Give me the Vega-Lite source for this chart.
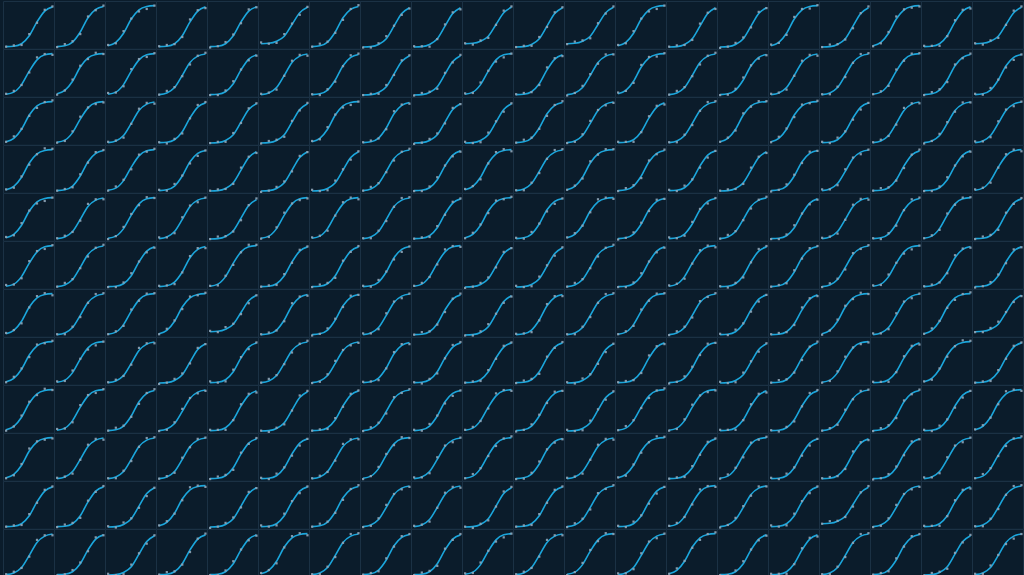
{
"$schema":"https://vega.github.io/schema/vega-lite/v6.json",
"background":"#0b1c2b",
"padding":{"left":2,"top":0,"right":0,"bottom":0},
"bounds":"flush",
"datasets":{
"t":[
{"k":"A0","x":0,"f":3},{"k":"A1","x":1,"f":11},{"k":"A2","x":2,"f":33},{"k":"A3","x":3,"f":67},{"k":"A4","x":4,"f":89},{"k":"A5","x":5,"f":97},{"k":"A6","x":6,"f":99},
{"k":"B0","x":0,"f":2},{"k":"B1","x":1,"f":7},{"k":"B2","x":2,"f":25},{"k":"B3","x":3,"f":57},{"k":"B4","x":4,"f":84},{"k":"B5","x":5,"f":96},{"k":"B6","x":6,"f":99},
{"k":"C0","x":0,"f":1},{"k":"C1","x":1,"f":5},{"k":"C2","x":2,"f":18},{"k":"C3","x":3,"f":47},{"k":"C4","x":4,"f":78},{"k":"C5","x":5,"f":93},{"k":"C6","x":6,"f":98},
{"k":"D0","x":0,"f":1},{"k":"D1","x":1,"f":3},{"k":"D2","x":2,"f":12},{"k":"D3","x":3,"f":36},{"k":"D4","x":4,"f":70},{"k":"D5","x":5,"f":90},{"k":"D6","x":6,"f":97},
{"k":"E0","x":0,"f":1},{"k":"E1","x":1,"f":2},{"k":"E2","x":2,"f":8},{"k":"E3","x":3,"f":27},{"k":"E4","x":4,"f":60},{"k":"E5","x":5,"f":86},{"k":"E6","x":6,"f":96},
{"k":"F0","x":0,"f":0},{"k":"F1","x":1,"f":1},{"k":"F2","x":2,"f":6},{"k":"F3","x":3,"f":20},{"k":"F4","x":4,"f":50},{"k":"F5","x":5,"f":80},{"k":"F6","x":6,"f":94},
{"k":"R0","x":0,"f":8},{"k":"R1","x":1,"f":9},{"k":"R2","x":2,"f":14},{"k":"R3","x":3,"f":26},{"k":"R4","x":4,"f":54},{"k":"R5","x":5,"f":82},{"k":"R6","x":6,"f":95}
],
"d":[
{"p":0,"k":"E0","y":1},{"p":0,"k":"E1","y":4},{"p":0,"k":"E2","y":5},{"p":0,"k":"E3","y":31},{"p":0,"k":"E4","y":58},{"p":0,"k":"E5","y":89},{"p":0,"k":"E6","y":97},
{"p":1,"k":"D0","y":0},{"p":1,"k":"D1","y":7},{"p":1,"k":"D2","y":14},{"p":1,"k":"D3","y":31},{"p":1,"k":"D4","y":73},{"p":1,"k":"D5","y":88},{"p":1,"k":"D6","y":99},
{"p":2,"k":"A0","y":5},{"p":2,"k":"A1","y":9},{"p":2,"k":"A2","y":38},{"p":2,"k":"A3","y":68},{"p":2,"k":"A4","y":85},{"p":2,"k":"A5","y":91},{"p":2,"k":"A6","y":99},
{"p":3,"k":"E0","y":2},{"p":3,"k":"E1","y":5},{"p":3,"k":"E2","y":7},{"p":3,"k":"E3","y":24},{"p":3,"k":"E4","y":66},{"p":3,"k":"E5","y":88},{"p":3,"k":"E6","y":93},
{"p":4,"k":"E0","y":-1},{"p":4,"k":"E1","y":2},{"p":4,"k":"E2","y":12},{"p":4,"k":"E3","y":30},{"p":4,"k":"E4","y":57},{"p":4,"k":"E5","y":90},{"p":4,"k":"E6","y":95},
{"p":5,"k":"R0","y":11},{"p":5,"k":"R1","y":8},{"p":5,"k":"R2","y":10},{"p":5,"k":"R3","y":31},{"p":5,"k":"R4","y":56},{"p":5,"k":"R5","y":77},{"p":5,"k":"R6","y":96},
{"p":6,"k":"D0","y":1},{"p":6,"k":"D1","y":8},{"p":6,"k":"D2","y":13},{"p":6,"k":"D3","y":34},{"p":6,"k":"D4","y":65},{"p":6,"k":"D5","y":91},{"p":6,"k":"D6","y":100},
{"p":7,"k":"F0","y":-1},{"p":7,"k":"F1","y":-1},{"p":7,"k":"F2","y":9},{"p":7,"k":"F3","y":26},{"p":7,"k":"F4","y":51},{"p":7,"k":"F5","y":77},{"p":7,"k":"F6","y":92},
{"p":8,"k":"F0","y":2},{"p":8,"k":"F1","y":2},{"p":8,"k":"F2","y":1},{"p":8,"k":"F3","y":19},{"p":8,"k":"F4","y":54},{"p":8,"k":"F5","y":83},{"p":8,"k":"F6","y":90},
{"p":9,"k":"R0","y":9},{"p":9,"k":"R1","y":6},{"p":9,"k":"R2","y":16},{"p":9,"k":"R3","y":22},{"p":9,"k":"R4","y":53},{"p":9,"k":"R5","y":87},{"p":9,"k":"R6","y":97},
{"p":10,"k":"F0","y":0},{"p":10,"k":"F1","y":3},{"p":10,"k":"F2","y":3},{"p":10,"k":"F3","y":24},{"p":10,"k":"F4","y":48},{"p":10,"k":"F5","y":83},{"p":10,"k":"F6","y":95},
{"p":11,"k":"R0","y":7},{"p":11,"k":"R1","y":13},{"p":11,"k":"R2","y":16},{"p":11,"k":"R3","y":21},{"p":11,"k":"R4","y":57},{"p":11,"k":"R5","y":80},{"p":11,"k":"R6","y":97},
{"p":12,"k":"A0","y":5},{"p":12,"k":"A1","y":9},{"p":12,"k":"A2","y":38},{"p":12,"k":"A3","y":68},{"p":12,"k":"A4","y":85},{"p":12,"k":"A5","y":91},{"p":12,"k":"A6","y":99},
{"p":13,"k":"F0","y":1},{"p":13,"k":"F1","y":4},{"p":13,"k":"F2","y":5},{"p":13,"k":"F3","y":17},{"p":13,"k":"F4","y":56},{"p":13,"k":"F5","y":82},{"p":13,"k":"F6","y":91},
{"p":14,"k":"F0","y":-2},{"p":14,"k":"F1","y":1},{"p":14,"k":"F2","y":10},{"p":14,"k":"F3","y":23},{"p":14,"k":"F4","y":47},{"p":14,"k":"F5","y":84},{"p":14,"k":"F6","y":93},
{"p":15,"k":"A0","y":6},{"p":15,"k":"A1","y":10},{"p":15,"k":"A2","y":29},{"p":15,"k":"A3","y":72},{"p":15,"k":"A4","y":91},{"p":15,"k":"A5","y":92},{"p":15,"k":"A6","y":100},
{"p":16,"k":"F0","y":0},{"p":16,"k":"F1","y":6},{"p":16,"k":"F2","y":7},{"p":16,"k":"F3","y":18},{"p":16,"k":"F4","y":45},{"p":16,"k":"F5","y":81},{"p":16,"k":"F6","y":97},
{"p":17,"k":"A0","y":2},{"p":17,"k":"A1","y":9},{"p":17,"k":"A2","y":36},{"p":17,"k":"A3","y":73},{"p":17,"k":"A4","y":90},{"p":17,"k":"A5","y":94},{"p":17,"k":"A6","y":97},
{"p":18,"k":"E0","y":3},{"p":18,"k":"E1","y":3},{"p":18,"k":"E2","y":3},{"p":18,"k":"E3","y":26},{"p":18,"k":"E4","y":64},{"p":18,"k":"E5","y":89},{"p":18,"k":"E6","y":92},
{"p":19,"k":"R0","y":9},{"p":19,"k":"R1","y":6},{"p":19,"k":"R2","y":16},{"p":19,"k":"R3","y":22},{"p":19,"k":"R4","y":53},{"p":19,"k":"R5","y":87},{"p":19,"k":"R6","y":97},
{"p":20,"k":"B0","y":3},{"p":20,"k":"B1","y":10},{"p":20,"k":"B2","y":24},{"p":20,"k":"B3","y":54},{"p":20,"k":"B4","y":90},{"p":20,"k":"B5","y":98},{"p":20,"k":"B6","y":96},
{"p":21,"k":"A0","y":1},{"p":21,"k":"A1","y":11},{"p":21,"k":"A2","y":37},{"p":21,"k":"A3","y":70},{"p":21,"k":"A4","y":86},{"p":21,"k":"A5","y":101},{"p":21,"k":"A6","y":98},
{"p":22,"k":"B0","y":5},{"p":22,"k":"B1","y":6},{"p":22,"k":"B2","y":21},{"p":22,"k":"B3","y":62},{"p":22,"k":"B4","y":86},{"p":22,"k":"B5","y":91},{"p":22,"k":"B6","y":100},
{"p":23,"k":"C0","y":1},{"p":23,"k":"C1","y":10},{"p":23,"k":"C2","y":19},{"p":23,"k":"C3","y":45},{"p":23,"k":"C4","y":73},{"p":23,"k":"C5","y":94},{"p":23,"k":"C6","y":101},
{"p":24,"k":"E0","y":0},{"p":24,"k":"E1","y":0},{"p":24,"k":"E2","y":11},{"p":24,"k":"E3","y":33},{"p":24,"k":"E4","y":61},{"p":24,"k":"E5","y":83},{"p":24,"k":"E6","y":94},
{"p":25,"k":"C0","y":3},{"p":25,"k":"C1","y":6},{"p":25,"k":"C2","y":13},{"p":25,"k":"C3","y":46},{"p":25,"k":"C4","y":82},{"p":25,"k":"C5","y":96},{"p":25,"k":"C6","y":94},
{"p":26,"k":"D0","y":2},{"p":26,"k":"D1","y":0},{"p":26,"k":"D2","y":14},{"p":26,"k":"D3","y":32},{"p":26,"k":"D4","y":69},{"p":26,"k":"D5","y":95},{"p":26,"k":"D6","y":99},
{"p":27,"k":"F0","y":0},{"p":27,"k":"F1","y":3},{"p":27,"k":"F2","y":3},{"p":27,"k":"F3","y":24},{"p":27,"k":"F4","y":48},{"p":27,"k":"F5","y":83},{"p":27,"k":"F6","y":95},
{"p":28,"k":"F0","y":-1},{"p":28,"k":"F1","y":5},{"p":28,"k":"F2","y":8},{"p":28,"k":"F3","y":15},{"p":28,"k":"F4","y":53},{"p":28,"k":"F5","y":78},{"p":28,"k":"F6","y":96},
{"p":29,"k":"B0","y":4},{"p":29,"k":"B1","y":5},{"p":29,"k":"B2","y":30},{"p":29,"k":"B3","y":58},{"p":29,"k":"B4","y":80},{"p":29,"k":"B5","y":90},{"p":29,"k":"B6","y":99},
{"p":30,"k":"E0","y":2},{"p":30,"k":"E1","y":5},{"p":30,"k":"E2","y":7},{"p":30,"k":"E3","y":24},{"p":30,"k":"E4","y":66},{"p":30,"k":"E5","y":88},{"p":30,"k":"E6","y":93},
{"p":31,"k":"C0","y":-1},{"p":31,"k":"C1","y":5},{"p":31,"k":"C2","y":22},{"p":31,"k":"C3","y":50},{"p":31,"k":"C4","y":75},{"p":31,"k":"C5","y":97},{"p":31,"k":"C6","y":97},
{"p":32,"k":"A0","y":6},{"p":32,"k":"A1","y":10},{"p":32,"k":"A2","y":29},{"p":32,"k":"A3","y":72},{"p":32,"k":"A4","y":91},{"p":32,"k":"A5","y":92},{"p":32,"k":"A6","y":100},
{"p":33,"k":"C0","y":1},{"p":33,"k":"C1","y":10},{"p":33,"k":"C2","y":19},{"p":33,"k":"C3","y":45},{"p":33,"k":"C4","y":73},{"p":33,"k":"C5","y":94},{"p":33,"k":"C6","y":101},
{"p":34,"k":"D0","y":0},{"p":34,"k":"D1","y":1},{"p":34,"k":"D2","y":15},{"p":34,"k":"D3","y":42},{"p":34,"k":"D4","y":71},{"p":34,"k":"D5","y":87},{"p":34,"k":"D6","y":95},
{"p":35,"k":"C0","y":3},{"p":35,"k":"C1","y":6},{"p":35,"k":"C2","y":13},{"p":35,"k":"C3","y":46},{"p":35,"k":"C4","y":82},{"p":35,"k":"C5","y":96},{"p":35,"k":"C6","y":94},
{"p":36,"k":"C0","y":2},{"p":36,"k":"C1","y":2},{"p":36,"k":"C2","y":20},{"p":36,"k":"C3","y":43},{"p":36,"k":"C4","y":77},{"p":36,"k":"C5","y":98},{"p":36,"k":"C6","y":100},
{"p":37,"k":"B0","y":2},{"p":37,"k":"B1","y":9},{"p":37,"k":"B2","y":22},{"p":37,"k":"B3","y":61},{"p":37,"k":"B4","y":82},{"p":37,"k":"B5","y":99},{"p":37,"k":"B6","y":100},
{"p":38,"k":"D0","y":0},{"p":38,"k":"D1","y":7},{"p":38,"k":"D2","y":14},{"p":38,"k":"D3","y":31},{"p":38,"k":"D4","y":73},{"p":38,"k":"D5","y":88},{"p":38,"k":"D6","y":99},
{"p":39,"k":"D0","y":3},{"p":39,"k":"D1","y":1},{"p":39,"k":"D2","y":17},{"p":39,"k":"D3","y":37},{"p":39,"k":"D4","y":66},{"p":39,"k":"D5","y":84},{"p":39,"k":"D6","y":97},
{"p":40,"k":"A0","y":3},{"p":40,"k":"A1","y":16},{"p":40,"k":"A2","y":34},{"p":40,"k":"A3","y":65},{"p":40,"k":"A4","y":84},{"p":40,"k":"A5","y":98},{"p":40,"k":"A6","y":102},
{"p":41,"k":"B0","y":1},{"p":41,"k":"B1","y":5},{"p":41,"k":"B2","y":28},{"p":41,"k":"B3","y":63},{"p":41,"k":"B4","y":85},{"p":41,"k":"B5","y":93},{"p":41,"k":"B6","y":97},
{"p":42,"k":"C0","y":3},{"p":42,"k":"C1","y":6},{"p":42,"k":"C2","y":13},{"p":42,"k":"C3","y":46},{"p":42,"k":"C4","y":82},{"p":42,"k":"C5","y":96},{"p":42,"k":"C6","y":94},
{"p":43,"k":"E0","y":2},{"p":43,"k":"E1","y":-1},{"p":43,"k":"E2","y":10},{"p":43,"k":"E3","y":23},{"p":43,"k":"E4","y":59},{"p":43,"k":"E5","y":91},{"p":43,"k":"E6","y":98},
{"p":44,"k":"F0","y":0},{"p":44,"k":"F1","y":3},{"p":44,"k":"F2","y":3},{"p":44,"k":"F3","y":24},{"p":44,"k":"F4","y":48},{"p":44,"k":"F5","y":83},{"p":44,"k":"F6","y":95},
{"p":45,"k":"F0","y":-1},{"p":45,"k":"F1","y":5},{"p":45,"k":"F2","y":8},{"p":45,"k":"F3","y":15},{"p":45,"k":"F4","y":53},{"p":45,"k":"F5","y":78},{"p":45,"k":"F6","y":96},
{"p":46,"k":"A0","y":5},{"p":46,"k":"A1","y":9},{"p":46,"k":"A2","y":38},{"p":46,"k":"A3","y":68},{"p":46,"k":"A4","y":85},{"p":46,"k":"A5","y":91},{"p":46,"k":"A6","y":99},
{"p":47,"k":"D0","y":2},{"p":47,"k":"D1","y":6},{"p":47,"k":"D2","y":11},{"p":47,"k":"D3","y":33},{"p":47,"k":"D4","y":76},{"p":47,"k":"D5","y":92},{"p":47,"k":"D6","y":94},
{"p":48,"k":"F0","y":-2},{"p":48,"k":"F1","y":1},{"p":48,"k":"F2","y":10},{"p":48,"k":"F3","y":23},{"p":48,"k":"F4","y":47},{"p":48,"k":"F5","y":84},{"p":48,"k":"F6","y":93},
{"p":49,"k":"F0","y":3},{"p":49,"k":"F1","y":0},{"p":49,"k":"F2","y":2},{"p":49,"k":"F3","y":25},{"p":49,"k":"F4","y":52},{"p":49,"k":"F5","y":75},{"p":49,"k":"F6","y":95},
{"p":50,"k":"D0","y":1},{"p":50,"k":"D1","y":8},{"p":50,"k":"D2","y":13},{"p":50,"k":"D3","y":34},{"p":50,"k":"D4","y":65},{"p":50,"k":"D5","y":91},{"p":50,"k":"D6","y":100},
{"p":51,"k":"C0","y":0},{"p":51,"k":"C1","y":3},{"p":51,"k":"C2","y":21},{"p":51,"k":"C3","y":53},{"p":51,"k":"C4","y":79},{"p":51,"k":"C5","y":90},{"p":51,"k":"C6","y":96},
{"p":52,"k":"E0","y":3},{"p":52,"k":"E1","y":3},{"p":52,"k":"E2","y":3},{"p":52,"k":"E3","y":26},{"p":52,"k":"E4","y":64},{"p":52,"k":"E5","y":89},{"p":52,"k":"E6","y":92},
{"p":53,"k":"C0","y":2},{"p":53,"k":"C1","y":2},{"p":53,"k":"C2","y":20},{"p":53,"k":"C3","y":43},{"p":53,"k":"C4","y":77},{"p":53,"k":"C5","y":98},{"p":53,"k":"C6","y":100},
{"p":54,"k":"A0","y":3},{"p":54,"k":"A1","y":13},{"p":54,"k":"A2","y":30},{"p":54,"k":"A3","y":71},{"p":54,"k":"A4","y":87},{"p":54,"k":"A5","y":100},{"p":54,"k":"A6","y":100},
{"p":55,"k":"A0","y":2},{"p":55,"k":"A1","y":15},{"p":55,"k":"A2","y":35},{"p":55,"k":"A3","y":62},{"p":55,"k":"A4","y":92},{"p":55,"k":"A5","y":95},{"p":55,"k":"A6","y":101},
{"p":56,"k":"E0","y":3},{"p":56,"k":"E1","y":0},{"p":56,"k":"E2","y":13},{"p":56,"k":"E3","y":28},{"p":56,"k":"E4","y":56},{"p":56,"k":"E5","y":80},{"p":56,"k":"E6","y":96},
{"p":57,"k":"C0","y":2},{"p":57,"k":"C1","y":8},{"p":57,"k":"C2","y":17},{"p":57,"k":"C3","y":44},{"p":57,"k":"C4","y":84},{"p":57,"k":"C5","y":95},{"p":57,"k":"C6","y":95},
{"p":58,"k":"C0","y":-1},{"p":58,"k":"C1","y":5},{"p":58,"k":"C2","y":22},{"p":58,"k":"C3","y":50},{"p":58,"k":"C4","y":75},{"p":58,"k":"C5","y":97},{"p":58,"k":"C6","y":97},
{"p":59,"k":"C0","y":4},{"p":59,"k":"C1","y":4},{"p":59,"k":"C2","y":14},{"p":59,"k":"C3","y":52},{"p":59,"k":"C4","y":80},{"p":59,"k":"C5","y":88},{"p":59,"k":"C6","y":99},
{"p":60,"k":"A0","y":4},{"p":60,"k":"A1","y":8},{"p":60,"k":"A2","y":35},{"p":60,"k":"A3","y":63},{"p":60,"k":"A4","y":88},{"p":60,"k":"A5","y":102},{"p":60,"k":"A6","y":101},
{"p":61,"k":"D0","y":1},{"p":61,"k":"D1","y":5},{"p":61,"k":"D2","y":9},{"p":61,"k":"D3","y":40},{"p":61,"k":"D4","y":68},{"p":61,"k":"D5","y":93},{"p":61,"k":"D6","y":98},
{"p":62,"k":"B0","y":1},{"p":62,"k":"B1","y":11},{"p":62,"k":"B2","y":27},{"p":62,"k":"B3","y":52},{"p":62,"k":"B4","y":87},{"p":62,"k":"B5","y":94},{"p":62,"k":"B6","y":101},
{"p":63,"k":"D0","y":3},{"p":63,"k":"D1","y":1},{"p":63,"k":"D2","y":17},{"p":63,"k":"D3","y":37},{"p":63,"k":"D4","y":66},{"p":63,"k":"D5","y":84},{"p":63,"k":"D6","y":97},
{"p":64,"k":"F0","y":1},{"p":64,"k":"F1","y":4},{"p":64,"k":"F2","y":5},{"p":64,"k":"F3","y":17},{"p":64,"k":"F4","y":56},{"p":64,"k":"F5","y":82},{"p":64,"k":"F6","y":91},
{"p":65,"k":"F0","y":-2},{"p":65,"k":"F1","y":1},{"p":65,"k":"F2","y":10},{"p":65,"k":"F3","y":23},{"p":65,"k":"F4","y":47},{"p":65,"k":"F5","y":84},{"p":65,"k":"F6","y":93},
{"p":66,"k":"F0","y":3},{"p":66,"k":"F1","y":0},{"p":66,"k":"F2","y":2},{"p":66,"k":"F3","y":25},{"p":66,"k":"F4","y":52},{"p":66,"k":"F5","y":75},{"p":66,"k":"F6","y":95},
{"p":67,"k":"C0","y":1},{"p":67,"k":"C1","y":10},{"p":67,"k":"C2","y":19},{"p":67,"k":"C3","y":45},{"p":67,"k":"C4","y":73},{"p":67,"k":"C5","y":94},{"p":67,"k":"C6","y":101},
{"p":68,"k":"E0","y":0},{"p":68,"k":"E1","y":0},{"p":68,"k":"E2","y":11},{"p":68,"k":"E3","y":33},{"p":68,"k":"E4","y":61},{"p":68,"k":"E5","y":83},{"p":68,"k":"E6","y":94},
{"p":69,"k":"A0","y":5},{"p":69,"k":"A1","y":12},{"p":69,"k":"A2","y":28},{"p":69,"k":"A3","y":66},{"p":69,"k":"A4","y":93},{"p":69,"k":"A5","y":100},{"p":69,"k":"A6","y":95},
{"p":70,"k":"C0","y":2},{"p":70,"k":"C1","y":2},{"p":70,"k":"C2","y":20},{"p":70,"k":"C3","y":43},{"p":70,"k":"C4","y":77},{"p":70,"k":"C5","y":98},{"p":70,"k":"C6","y":100},
{"p":71,"k":"A0","y":3},{"p":71,"k":"A1","y":13},{"p":71,"k":"A2","y":30},{"p":71,"k":"A3","y":71},{"p":71,"k":"A4","y":87},{"p":71,"k":"A5","y":100},{"p":71,"k":"A6","y":100},
{"p":72,"k":"D0","y":0},{"p":72,"k":"D1","y":7},{"p":72,"k":"D2","y":14},{"p":72,"k":"D3","y":31},{"p":72,"k":"D4","y":73},{"p":72,"k":"D5","y":88},{"p":72,"k":"D6","y":99},
{"p":73,"k":"E0","y":3},{"p":73,"k":"E1","y":0},{"p":73,"k":"E2","y":13},{"p":73,"k":"E3","y":28},{"p":73,"k":"E4","y":56},{"p":73,"k":"E5","y":80},{"p":73,"k":"E6","y":96},
{"p":74,"k":"F0","y":1},{"p":74,"k":"F1","y":4},{"p":74,"k":"F2","y":5},{"p":74,"k":"F3","y":17},{"p":74,"k":"F4","y":56},{"p":74,"k":"F5","y":82},{"p":74,"k":"F6","y":91},
{"p":75,"k":"D0","y":-1},{"p":75,"k":"D1","y":3},{"p":75,"k":"D2","y":16},{"p":75,"k":"D3","y":39},{"p":75,"k":"D4","y":67},{"p":75,"k":"D5","y":94},{"p":75,"k":"D6","y":96},
{"p":76,"k":"C0","y":4},{"p":76,"k":"C1","y":4},{"p":76,"k":"C2","y":14},{"p":76,"k":"C3","y":52},{"p":76,"k":"C4","y":80},{"p":76,"k":"C5","y":88},{"p":76,"k":"C6","y":99},
{"p":77,"k":"E0","y":1},{"p":77,"k":"E1","y":7},{"p":77,"k":"E2","y":9},{"p":77,"k":"E3","y":25},{"p":77,"k":"E4","y":55},{"p":77,"k":"E5","y":87},{"p":77,"k":"E6","y":99},
{"p":78,"k":"E0","y":0},{"p":78,"k":"E1","y":0},{"p":78,"k":"E2","y":11},{"p":78,"k":"E3","y":33},{"p":78,"k":"E4","y":61},{"p":78,"k":"E5","y":83},{"p":78,"k":"E6","y":94},
{"p":79,"k":"B0","y":4},{"p":79,"k":"B1","y":8},{"p":79,"k":"B2","y":20},{"p":79,"k":"B3","y":56},{"p":79,"k":"B4","y":88},{"p":79,"k":"B5","y":99},{"p":79,"k":"B6","y":95},
{"p":80,"k":"A0","y":5},{"p":80,"k":"A1","y":9},{"p":80,"k":"A2","y":38},{"p":80,"k":"A3","y":68},{"p":80,"k":"A4","y":85},{"p":80,"k":"A5","y":91},{"p":80,"k":"A6","y":99},
{"p":81,"k":"C0","y":2},{"p":81,"k":"C1","y":8},{"p":81,"k":"C2","y":17},{"p":81,"k":"C3","y":44},{"p":81,"k":"C4","y":84},{"p":81,"k":"C5","y":95},{"p":81,"k":"C6","y":95},
{"p":82,"k":"B0","y":0},{"p":82,"k":"B1","y":7},{"p":82,"k":"B2","y":29},{"p":82,"k":"B3","y":60},{"p":82,"k":"B4","y":81},{"p":82,"k":"B5","y":100},{"p":82,"k":"B6","y":98},
{"p":83,"k":"C0","y":4},{"p":83,"k":"C1","y":4},{"p":83,"k":"C2","y":14},{"p":83,"k":"C3","y":52},{"p":83,"k":"C4","y":80},{"p":83,"k":"C5","y":88},{"p":83,"k":"C6","y":99},
{"p":84,"k":"F0","y":0},{"p":84,"k":"F1","y":6},{"p":84,"k":"F2","y":7},{"p":84,"k":"F3","y":18},{"p":84,"k":"F4","y":45},{"p":84,"k":"F5","y":81},{"p":84,"k":"F6","y":97},
{"p":85,"k":"B0","y":1},{"p":85,"k":"B1","y":5},{"p":85,"k":"B2","y":28},{"p":85,"k":"B3","y":63},{"p":85,"k":"B4","y":85},{"p":85,"k":"B5","y":93},{"p":85,"k":"B6","y":97},
{"p":86,"k":"B0","y":4},{"p":86,"k":"B1","y":8},{"p":86,"k":"B2","y":20},{"p":86,"k":"B3","y":56},{"p":86,"k":"B4","y":88},{"p":86,"k":"B5","y":99},{"p":86,"k":"B6","y":95},
{"p":87,"k":"C0","y":2},{"p":87,"k":"C1","y":2},{"p":87,"k":"C2","y":20},{"p":87,"k":"C3","y":43},{"p":87,"k":"C4","y":77},{"p":87,"k":"C5","y":98},{"p":87,"k":"C6","y":100},
{"p":88,"k":"E0","y":1},{"p":88,"k":"E1","y":4},{"p":88,"k":"E2","y":5},{"p":88,"k":"E3","y":31},{"p":88,"k":"E4","y":58},{"p":88,"k":"E5","y":89},{"p":88,"k":"E6","y":97},
{"p":89,"k":"A0","y":2},{"p":89,"k":"A1","y":15},{"p":89,"k":"A2","y":35},{"p":89,"k":"A3","y":62},{"p":89,"k":"A4","y":92},{"p":89,"k":"A5","y":95},{"p":89,"k":"A6","y":101},
{"p":90,"k":"D0","y":3},{"p":90,"k":"D1","y":1},{"p":90,"k":"D2","y":17},{"p":90,"k":"D3","y":37},{"p":90,"k":"D4","y":66},{"p":90,"k":"D5","y":84},{"p":90,"k":"D6","y":97},
{"p":91,"k":"A0","y":4},{"p":91,"k":"A1","y":14},{"p":91,"k":"A2","y":32},{"p":91,"k":"A3","y":64},{"p":91,"k":"A4","y":95},{"p":91,"k":"A5","y":99},{"p":91,"k":"A6","y":96},
{"p":92,"k":"D0","y":-1},{"p":92,"k":"D1","y":3},{"p":92,"k":"D2","y":16},{"p":92,"k":"D3","y":39},{"p":92,"k":"D4","y":67},{"p":92,"k":"D5","y":94},{"p":92,"k":"D6","y":96},
{"p":93,"k":"D0","y":4},{"p":93,"k":"D1","y":2},{"p":93,"k":"D2","y":8},{"p":93,"k":"D3","y":41},{"p":93,"k":"D4","y":72},{"p":93,"k":"D5","y":85},{"p":93,"k":"D6","y":98},
{"p":94,"k":"C0","y":1},{"p":94,"k":"C1","y":10},{"p":94,"k":"C2","y":19},{"p":94,"k":"C3","y":45},{"p":94,"k":"C4","y":73},{"p":94,"k":"C5","y":94},{"p":94,"k":"C6","y":101},
{"p":95,"k":"E0","y":0},{"p":95,"k":"E1","y":0},{"p":95,"k":"E2","y":11},{"p":95,"k":"E3","y":33},{"p":95,"k":"E4","y":61},{"p":95,"k":"E5","y":83},{"p":95,"k":"E6","y":94},
{"p":96,"k":"C0","y":3},{"p":96,"k":"C1","y":6},{"p":96,"k":"C2","y":13},{"p":96,"k":"C3","y":46},{"p":96,"k":"C4","y":82},{"p":96,"k":"C5","y":96},{"p":96,"k":"C6","y":94},
{"p":97,"k":"D0","y":2},{"p":97,"k":"D1","y":0},{"p":97,"k":"D2","y":14},{"p":97,"k":"D3","y":32},{"p":97,"k":"D4","y":69},{"p":97,"k":"D5","y":95},{"p":97,"k":"D6","y":99},
{"p":98,"k":"B0","y":2},{"p":98,"k":"B1","y":9},{"p":98,"k":"B2","y":22},{"p":98,"k":"B3","y":61},{"p":98,"k":"B4","y":82},{"p":98,"k":"B5","y":99},{"p":98,"k":"B6","y":100},
{"p":99,"k":"E0","y":0},{"p":99,"k":"E1","y":6},{"p":99,"k":"E2","y":10},{"p":99,"k":"E3","y":22},{"p":99,"k":"E4","y":63},{"p":99,"k":"E5","y":84},{"p":99,"k":"E6","y":98},
{"p":100,"k":"B0","y":5},{"p":100,"k":"B1","y":6},{"p":100,"k":"B2","y":21},{"p":100,"k":"B3","y":62},{"p":100,"k":"B4","y":86},{"p":100,"k":"B5","y":91},{"p":100,"k":"B6","y":100},
{"p":101,"k":"C0","y":1},{"p":101,"k":"C1","y":10},{"p":101,"k":"C2","y":19},{"p":101,"k":"C3","y":45},{"p":101,"k":"C4","y":73},{"p":101,"k":"C5","y":94},{"p":101,"k":"C6","y":101},
{"p":102,"k":"E0","y":0},{"p":102,"k":"E1","y":0},{"p":102,"k":"E2","y":11},{"p":102,"k":"E3","y":33},{"p":102,"k":"E4","y":61},{"p":102,"k":"E5","y":83},{"p":102,"k":"E6","y":94},
{"p":103,"k":"D0","y":3},{"p":103,"k":"D1","y":4},{"p":103,"k":"D2","y":7},{"p":103,"k":"D3","y":35},{"p":103,"k":"D4","y":74},{"p":103,"k":"D5","y":93},{"p":103,"k":"D6","y":93},
{"p":104,"k":"B0","y":3},{"p":104,"k":"B1","y":4},{"p":104,"k":"B2","y":27},{"p":104,"k":"B3","y":53},{"p":104,"k":"B4","y":83},{"p":104,"k":"B5","y":101},{"p":104,"k":"B6","y":101},
{"p":105,"k":"E0","y":1},{"p":105,"k":"E1","y":4},{"p":105,"k":"E2","y":5},{"p":105,"k":"E3","y":31},{"p":105,"k":"E4","y":58},{"p":105,"k":"E5","y":89},{"p":105,"k":"E6","y":97},
{"p":106,"k":"E0","y":0},{"p":106,"k":"E1","y":6},{"p":106,"k":"E2","y":10},{"p":106,"k":"E3","y":22},{"p":106,"k":"E4","y":63},{"p":106,"k":"E5","y":84},{"p":106,"k":"E6","y":98},
{"p":107,"k":"D0","y":3},{"p":107,"k":"D1","y":1},{"p":107,"k":"D2","y":17},{"p":107,"k":"D3","y":37},{"p":107,"k":"D4","y":66},{"p":107,"k":"D5","y":84},{"p":107,"k":"D6","y":97},
{"p":108,"k":"B0","y":3},{"p":108,"k":"B1","y":10},{"p":108,"k":"B2","y":24},{"p":108,"k":"B3","y":54},{"p":108,"k":"B4","y":90},{"p":108,"k":"B5","y":98},{"p":108,"k":"B6","y":96},
{"p":109,"k":"F0","y":-2},{"p":109,"k":"F1","y":1},{"p":109,"k":"F2","y":10},{"p":109,"k":"F3","y":23},{"p":109,"k":"F4","y":47},{"p":109,"k":"F5","y":84},{"p":109,"k":"F6","y":93},
{"p":110,"k":"F0","y":3},{"p":110,"k":"F1","y":0},{"p":110,"k":"F2","y":2},{"p":110,"k":"F3","y":25},{"p":110,"k":"F4","y":52},{"p":110,"k":"F5","y":75},{"p":110,"k":"F6","y":95},
{"p":111,"k":"C0","y":1},{"p":111,"k":"C1","y":10},{"p":111,"k":"C2","y":19},{"p":111,"k":"C3","y":45},{"p":111,"k":"C4","y":73},{"p":111,"k":"C5","y":94},{"p":111,"k":"C6","y":101},
{"p":112,"k":"E0","y":0},{"p":112,"k":"E1","y":0},{"p":112,"k":"E2","y":11},{"p":112,"k":"E3","y":33},{"p":112,"k":"E4","y":61},{"p":112,"k":"E5","y":83},{"p":112,"k":"E6","y":94},
{"p":113,"k":"B0","y":4},{"p":113,"k":"B1","y":8},{"p":113,"k":"B2","y":20},{"p":113,"k":"B3","y":56},{"p":113,"k":"B4","y":88},{"p":113,"k":"B5","y":99},{"p":113,"k":"B6","y":95},
{"p":114,"k":"E0","y":2},{"p":114,"k":"E1","y":-1},{"p":114,"k":"E2","y":10},{"p":114,"k":"E3","y":23},{"p":114,"k":"E4","y":59},{"p":114,"k":"E5","y":91},{"p":114,"k":"E6","y":98},
{"p":115,"k":"D0","y":1},{"p":115,"k":"D1","y":5},{"p":115,"k":"D2","y":9},{"p":115,"k":"D3","y":40},{"p":115,"k":"D4","y":68},{"p":115,"k":"D5","y":93},{"p":115,"k":"D6","y":98},
{"p":116,"k":"C0","y":0},{"p":116,"k":"C1","y":9},{"p":116,"k":"C2","y":20},{"p":116,"k":"C3","y":42},{"p":116,"k":"C4","y":81},{"p":116,"k":"C5","y":91},{"p":116,"k":"C6","y":100},
{"p":117,"k":"B0","y":4},{"p":117,"k":"B1","y":5},{"p":117,"k":"B2","y":30},{"p":117,"k":"B3","y":58},{"p":117,"k":"B4","y":80},{"p":117,"k":"B5","y":90},{"p":117,"k":"B6","y":99},
{"p":118,"k":"D0","y":2},{"p":118,"k":"D1","y":6},{"p":118,"k":"D2","y":11},{"p":118,"k":"D3","y":33},{"p":118,"k":"D4","y":76},{"p":118,"k":"D5","y":92},{"p":118,"k":"D6","y":94},
{"p":119,"k":"E0","y":-1},{"p":119,"k":"E1","y":2},{"p":119,"k":"E2","y":12},{"p":119,"k":"E3","y":30},{"p":119,"k":"E4","y":57},{"p":119,"k":"E5","y":90},{"p":119,"k":"E6","y":95},
{"p":120,"k":"A0","y":5},{"p":120,"k":"A1","y":12},{"p":120,"k":"A2","y":28},{"p":120,"k":"A3","y":66},{"p":120,"k":"A4","y":93},{"p":120,"k":"A5","y":100},{"p":120,"k":"A6","y":95},
{"p":121,"k":"C0","y":2},{"p":121,"k":"C1","y":2},{"p":121,"k":"C2","y":20},{"p":121,"k":"C3","y":43},{"p":121,"k":"C4","y":77},{"p":121,"k":"C5","y":98},{"p":121,"k":"C6","y":100},
{"p":122,"k":"B0","y":2},{"p":122,"k":"B1","y":9},{"p":122,"k":"B2","y":22},{"p":122,"k":"B3","y":61},{"p":122,"k":"B4","y":82},{"p":122,"k":"B5","y":99},{"p":122,"k":"B6","y":100},
{"p":123,"k":"A0","y":2},{"p":123,"k":"A1","y":15},{"p":123,"k":"A2","y":35},{"p":123,"k":"A3","y":62},{"p":123,"k":"A4","y":92},{"p":123,"k":"A5","y":95},{"p":123,"k":"A6","y":101},
{"p":124,"k":"R0","y":10},{"p":124,"k":"R1","y":7},{"p":124,"k":"R2","y":19},{"p":124,"k":"R3","y":27},{"p":124,"k":"R4","y":50},{"p":124,"k":"R5","y":76},{"p":124,"k":"R6","y":95},
{"p":125,"k":"D0","y":2},{"p":125,"k":"D1","y":6},{"p":125,"k":"D2","y":11},{"p":125,"k":"D3","y":33},{"p":125,"k":"D4","y":76},{"p":125,"k":"D5","y":92},{"p":125,"k":"D6","y":94},
{"p":126,"k":"D0","y":-1},{"p":126,"k":"D1","y":3},{"p":126,"k":"D2","y":16},{"p":126,"k":"D3","y":39},{"p":126,"k":"D4","y":67},{"p":126,"k":"D5","y":94},{"p":126,"k":"D6","y":96},
{"p":127,"k":"C0","y":4},{"p":127,"k":"C1","y":4},{"p":127,"k":"C2","y":14},{"p":127,"k":"C3","y":52},{"p":127,"k":"C4","y":80},{"p":127,"k":"C5","y":88},{"p":127,"k":"C6","y":99},
{"p":128,"k":"E0","y":1},{"p":128,"k":"E1","y":7},{"p":128,"k":"E2","y":9},{"p":128,"k":"E3","y":25},{"p":128,"k":"E4","y":55},{"p":128,"k":"E5","y":87},{"p":128,"k":"E6","y":99},
{"p":129,"k":"F0","y":-1},{"p":129,"k":"F1","y":-1},{"p":129,"k":"F2","y":9},{"p":129,"k":"F3","y":26},{"p":129,"k":"F4","y":51},{"p":129,"k":"F5","y":77},{"p":129,"k":"F6","y":92},
{"p":130,"k":"D0","y":3},{"p":130,"k":"D1","y":4},{"p":130,"k":"D2","y":7},{"p":130,"k":"D3","y":35},{"p":130,"k":"D4","y":74},{"p":130,"k":"D5","y":93},{"p":130,"k":"D6","y":93},
{"p":131,"k":"C0","y":2},{"p":131,"k":"C1","y":2},{"p":131,"k":"C2","y":20},{"p":131,"k":"C3","y":43},{"p":131,"k":"C4","y":77},{"p":131,"k":"C5","y":98},{"p":131,"k":"C6","y":100},
{"p":132,"k":"B0","y":2},{"p":132,"k":"B1","y":9},{"p":132,"k":"B2","y":22},{"p":132,"k":"B3","y":61},{"p":132,"k":"B4","y":82},{"p":132,"k":"B5","y":99},{"p":132,"k":"B6","y":100},
{"p":133,"k":"C0","y":0},{"p":133,"k":"C1","y":9},{"p":133,"k":"C2","y":20},{"p":133,"k":"C3","y":42},{"p":133,"k":"C4","y":81},{"p":133,"k":"C5","y":91},{"p":133,"k":"C6","y":100},
{"p":134,"k":"E0","y":3},{"p":134,"k":"E1","y":0},{"p":134,"k":"E2","y":13},{"p":134,"k":"E3","y":28},{"p":134,"k":"E4","y":56},{"p":134,"k":"E5","y":80},{"p":134,"k":"E6","y":96},
{"p":135,"k":"E0","y":2},{"p":135,"k":"E1","y":5},{"p":135,"k":"E2","y":7},{"p":135,"k":"E3","y":24},{"p":135,"k":"E4","y":66},{"p":135,"k":"E5","y":88},{"p":135,"k":"E6","y":93},
{"p":136,"k":"A0","y":1},{"p":136,"k":"A1","y":11},{"p":136,"k":"A2","y":37},{"p":136,"k":"A3","y":70},{"p":136,"k":"A4","y":86},{"p":136,"k":"A5","y":101},{"p":136,"k":"A6","y":98},
{"p":137,"k":"C0","y":4},{"p":137,"k":"C1","y":4},{"p":137,"k":"C2","y":14},{"p":137,"k":"C3","y":52},{"p":137,"k":"C4","y":80},{"p":137,"k":"C5","y":88},{"p":137,"k":"C6","y":99},
{"p":138,"k":"A0","y":3},{"p":138,"k":"A1","y":16},{"p":138,"k":"A2","y":34},{"p":138,"k":"A3","y":65},{"p":138,"k":"A4","y":84},{"p":138,"k":"A5","y":98},{"p":138,"k":"A6","y":102},
{"p":139,"k":"R0","y":7},{"p":139,"k":"R1","y":7},{"p":139,"k":"R2","y":17},{"p":139,"k":"R3","y":32},{"p":139,"k":"R4","y":55},{"p":139,"k":"R5","y":79},{"p":139,"k":"R6","y":93},
{"p":140,"k":"A0","y":2},{"p":140,"k":"A1","y":15},{"p":140,"k":"A2","y":35},{"p":140,"k":"A3","y":62},{"p":140,"k":"A4","y":92},{"p":140,"k":"A5","y":95},{"p":140,"k":"A6","y":101},
{"p":141,"k":"B0","y":4},{"p":141,"k":"B1","y":5},{"p":141,"k":"B2","y":30},{"p":141,"k":"B3","y":58},{"p":141,"k":"B4","y":80},{"p":141,"k":"B5","y":90},{"p":141,"k":"B6","y":99},
{"p":142,"k":"C0","y":2},{"p":142,"k":"C1","y":8},{"p":142,"k":"C2","y":17},{"p":142,"k":"C3","y":44},{"p":142,"k":"C4","y":84},{"p":142,"k":"C5","y":95},{"p":142,"k":"C6","y":95},
{"p":143,"k":"F0","y":-2},{"p":143,"k":"F1","y":1},{"p":143,"k":"F2","y":10},{"p":143,"k":"F3","y":23},{"p":143,"k":"F4","y":47},{"p":143,"k":"F5","y":84},{"p":143,"k":"F6","y":93},
{"p":144,"k":"E0","y":4},{"p":144,"k":"E1","y":1},{"p":144,"k":"E2","y":4},{"p":144,"k":"E3","y":32},{"p":144,"k":"E4","y":62},{"p":144,"k":"E5","y":81},{"p":144,"k":"E6","y":97},
{"p":145,"k":"C0","y":1},{"p":145,"k":"C1","y":10},{"p":145,"k":"C2","y":19},{"p":145,"k":"C3","y":45},{"p":145,"k":"C4","y":73},{"p":145,"k":"C5","y":94},{"p":145,"k":"C6","y":101},
{"p":146,"k":"C0","y":0},{"p":146,"k":"C1","y":3},{"p":146,"k":"C2","y":21},{"p":146,"k":"C3","y":53},{"p":146,"k":"C4","y":79},{"p":146,"k":"C5","y":90},{"p":146,"k":"C6","y":96},
{"p":147,"k":"D0","y":3},{"p":147,"k":"D1","y":4},{"p":147,"k":"D2","y":7},{"p":147,"k":"D3","y":35},{"p":147,"k":"D4","y":74},{"p":147,"k":"D5","y":93},{"p":147,"k":"D6","y":93},
{"p":148,"k":"E0","y":2},{"p":148,"k":"E1","y":-1},{"p":148,"k":"E2","y":10},{"p":148,"k":"E3","y":23},{"p":148,"k":"E4","y":59},{"p":148,"k":"E5","y":91},{"p":148,"k":"E6","y":98},
{"p":149,"k":"E0","y":1},{"p":149,"k":"E1","y":4},{"p":149,"k":"E2","y":5},{"p":149,"k":"E3","y":31},{"p":149,"k":"E4","y":58},{"p":149,"k":"E5","y":89},{"p":149,"k":"E6","y":97},
{"p":150,"k":"E0","y":0},{"p":150,"k":"E1","y":6},{"p":150,"k":"E2","y":10},{"p":150,"k":"E3","y":22},{"p":150,"k":"E4","y":63},{"p":150,"k":"E5","y":84},{"p":150,"k":"E6","y":98},
{"p":151,"k":"F0","y":2},{"p":151,"k":"F1","y":-1},{"p":151,"k":"F2","y":11},{"p":151,"k":"F3","y":21},{"p":151,"k":"F4","y":46},{"p":151,"k":"F5","y":74},{"p":151,"k":"F6","y":94},
{"p":152,"k":"E0","y":2},{"p":152,"k":"E1","y":5},{"p":152,"k":"E2","y":7},{"p":152,"k":"E3","y":24},{"p":152,"k":"E4","y":66},{"p":152,"k":"E5","y":88},{"p":152,"k":"E6","y":93},
{"p":153,"k":"D0","y":-1},{"p":153,"k":"D1","y":3},{"p":153,"k":"D2","y":16},{"p":153,"k":"D3","y":39},{"p":153,"k":"D4","y":67},{"p":153,"k":"D5","y":94},{"p":153,"k":"D6","y":96},
{"p":154,"k":"F0","y":3},{"p":154,"k":"F1","y":0},{"p":154,"k":"F2","y":2},{"p":154,"k":"F3","y":25},{"p":154,"k":"F4","y":52},{"p":154,"k":"F5","y":75},{"p":154,"k":"F6","y":95},
{"p":155,"k":"E0","y":1},{"p":155,"k":"E1","y":7},{"p":155,"k":"E2","y":9},{"p":155,"k":"E3","y":25},{"p":155,"k":"E4","y":55},{"p":155,"k":"E5","y":87},{"p":155,"k":"E6","y":99},
{"p":156,"k":"B0","y":1},{"p":156,"k":"B1","y":5},{"p":156,"k":"B2","y":28},{"p":156,"k":"B3","y":63},{"p":156,"k":"B4","y":85},{"p":156,"k":"B5","y":93},{"p":156,"k":"B6","y":97},
{"p":157,"k":"E0","y":3},{"p":157,"k":"E1","y":3},{"p":157,"k":"E2","y":3},{"p":157,"k":"E3","y":26},{"p":157,"k":"E4","y":64},{"p":157,"k":"E5","y":89},{"p":157,"k":"E6","y":92},
{"p":158,"k":"A0","y":4},{"p":158,"k":"A1","y":8},{"p":158,"k":"A2","y":35},{"p":158,"k":"A3","y":63},{"p":158,"k":"A4","y":88},{"p":158,"k":"A5","y":102},{"p":158,"k":"A6","y":101},
{"p":159,"k":"E0","y":1},{"p":159,"k":"E1","y":4},{"p":159,"k":"E2","y":5},{"p":159,"k":"E3","y":31},{"p":159,"k":"E4","y":58},{"p":159,"k":"E5","y":89},{"p":159,"k":"E6","y":97},
{"p":160,"k":"A0","y":1},{"p":160,"k":"A1","y":11},{"p":160,"k":"A2","y":37},{"p":160,"k":"A3","y":70},{"p":160,"k":"A4","y":86},{"p":160,"k":"A5","y":101},{"p":160,"k":"A6","y":98},
{"p":161,"k":"B0","y":5},{"p":161,"k":"B1","y":6},{"p":161,"k":"B2","y":21},{"p":161,"k":"B3","y":62},{"p":161,"k":"B4","y":86},{"p":161,"k":"B5","y":91},{"p":161,"k":"B6","y":100},
{"p":162,"k":"D0","y":1},{"p":162,"k":"D1","y":8},{"p":162,"k":"D2","y":13},{"p":162,"k":"D3","y":34},{"p":162,"k":"D4","y":65},{"p":162,"k":"D5","y":91},{"p":162,"k":"D6","y":100},
{"p":163,"k":"C0","y":0},{"p":163,"k":"C1","y":3},{"p":163,"k":"C2","y":21},{"p":163,"k":"C3","y":53},{"p":163,"k":"C4","y":79},{"p":163,"k":"C5","y":90},{"p":163,"k":"C6","y":96},
{"p":164,"k":"E0","y":3},{"p":164,"k":"E1","y":3},{"p":164,"k":"E2","y":3},{"p":164,"k":"E3","y":26},{"p":164,"k":"E4","y":64},{"p":164,"k":"E5","y":89},{"p":164,"k":"E6","y":92},
{"p":165,"k":"F0","y":1},{"p":165,"k":"F1","y":-2},{"p":165,"k":"F2","y":8},{"p":165,"k":"F3","y":16},{"p":165,"k":"F4","y":49},{"p":165,"k":"F5","y":85},{"p":165,"k":"F6","y":96},
{"p":166,"k":"E0","y":1},{"p":166,"k":"E1","y":4},{"p":166,"k":"E2","y":5},{"p":166,"k":"E3","y":31},{"p":166,"k":"E4","y":58},{"p":166,"k":"E5","y":89},{"p":166,"k":"E6","y":97},
{"p":167,"k":"C0","y":0},{"p":167,"k":"C1","y":9},{"p":167,"k":"C2","y":20},{"p":167,"k":"C3","y":42},{"p":167,"k":"C4","y":81},{"p":167,"k":"C5","y":91},{"p":167,"k":"C6","y":100},
{"p":168,"k":"D0","y":3},{"p":168,"k":"D1","y":1},{"p":168,"k":"D2","y":17},{"p":168,"k":"D3","y":37},{"p":168,"k":"D4","y":66},{"p":168,"k":"D5","y":84},{"p":168,"k":"D6","y":97},
{"p":169,"k":"B0","y":3},{"p":169,"k":"B1","y":10},{"p":169,"k":"B2","y":24},{"p":169,"k":"B3","y":54},{"p":169,"k":"B4","y":90},{"p":169,"k":"B5","y":98},{"p":169,"k":"B6","y":96},
{"p":170,"k":"D0","y":-1},{"p":170,"k":"D1","y":3},{"p":170,"k":"D2","y":16},{"p":170,"k":"D3","y":39},{"p":170,"k":"D4","y":67},{"p":170,"k":"D5","y":94},{"p":170,"k":"D6","y":96},
{"p":171,"k":"F0","y":3},{"p":171,"k":"F1","y":0},{"p":171,"k":"F2","y":2},{"p":171,"k":"F3","y":25},{"p":171,"k":"F4","y":52},{"p":171,"k":"F5","y":75},{"p":171,"k":"F6","y":95},
{"p":172,"k":"B0","y":2},{"p":172,"k":"B1","y":12},{"p":172,"k":"B2","y":26},{"p":172,"k":"B3","y":55},{"p":172,"k":"B4","y":79},{"p":172,"k":"B5","y":97},{"p":172,"k":"B6","y":102},
{"p":173,"k":"B0","y":1},{"p":173,"k":"B1","y":5},{"p":173,"k":"B2","y":28},{"p":173,"k":"B3","y":63},{"p":173,"k":"B4","y":85},{"p":173,"k":"B5","y":93},{"p":173,"k":"B6","y":97},
{"p":174,"k":"E0","y":3},{"p":174,"k":"E1","y":3},{"p":174,"k":"E2","y":3},{"p":174,"k":"E3","y":26},{"p":174,"k":"E4","y":64},{"p":174,"k":"E5","y":89},{"p":174,"k":"E6","y":92},
{"p":175,"k":"E0","y":2},{"p":175,"k":"E1","y":-1},{"p":175,"k":"E2","y":10},{"p":175,"k":"E3","y":23},{"p":175,"k":"E4","y":59},{"p":175,"k":"E5","y":91},{"p":175,"k":"E6","y":98},
{"p":176,"k":"C0","y":1},{"p":176,"k":"C1","y":7},{"p":176,"k":"C2","y":15},{"p":176,"k":"C3","y":51},{"p":176,"k":"C4","y":76},{"p":176,"k":"C5","y":96},{"p":176,"k":"C6","y":99},
{"p":177,"k":"D0","y":0},{"p":177,"k":"D1","y":7},{"p":177,"k":"D2","y":14},{"p":177,"k":"D3","y":31},{"p":177,"k":"D4","y":73},{"p":177,"k":"D5","y":88},{"p":177,"k":"D6","y":99},
{"p":178,"k":"E0","y":3},{"p":178,"k":"E1","y":0},{"p":178,"k":"E2","y":13},{"p":178,"k":"E3","y":28},{"p":178,"k":"E4","y":56},{"p":178,"k":"E5","y":80},{"p":178,"k":"E6","y":96},
{"p":179,"k":"A0","y":4},{"p":179,"k":"A1","y":14},{"p":179,"k":"A2","y":32},{"p":179,"k":"A3","y":64},{"p":179,"k":"A4","y":95},{"p":179,"k":"A5","y":99},{"p":179,"k":"A6","y":96},
{"p":180,"k":"A0","y":2},{"p":180,"k":"A1","y":9},{"p":180,"k":"A2","y":36},{"p":180,"k":"A3","y":73},{"p":180,"k":"A4","y":90},{"p":180,"k":"A5","y":94},{"p":180,"k":"A6","y":97},
{"p":181,"k":"C0","y":3},{"p":181,"k":"C1","y":6},{"p":181,"k":"C2","y":13},{"p":181,"k":"C3","y":46},{"p":181,"k":"C4","y":82},{"p":181,"k":"C5","y":96},{"p":181,"k":"C6","y":94},
{"p":182,"k":"C0","y":2},{"p":182,"k":"C1","y":2},{"p":182,"k":"C2","y":20},{"p":182,"k":"C3","y":43},{"p":182,"k":"C4","y":77},{"p":182,"k":"C5","y":98},{"p":182,"k":"C6","y":100},
{"p":183,"k":"C0","y":1},{"p":183,"k":"C1","y":7},{"p":183,"k":"C2","y":15},{"p":183,"k":"C3","y":51},{"p":183,"k":"C4","y":76},{"p":183,"k":"C5","y":96},{"p":183,"k":"C6","y":99},
{"p":184,"k":"E0","y":0},{"p":184,"k":"E1","y":6},{"p":184,"k":"E2","y":10},{"p":184,"k":"E3","y":22},{"p":184,"k":"E4","y":63},{"p":184,"k":"E5","y":84},{"p":184,"k":"E6","y":98},
{"p":185,"k":"E0","y":3},{"p":185,"k":"E1","y":0},{"p":185,"k":"E2","y":13},{"p":185,"k":"E3","y":28},{"p":185,"k":"E4","y":56},{"p":185,"k":"E5","y":80},{"p":185,"k":"E6","y":96},
{"p":186,"k":"C0","y":2},{"p":186,"k":"C1","y":8},{"p":186,"k":"C2","y":17},{"p":186,"k":"C3","y":44},{"p":186,"k":"C4","y":84},{"p":186,"k":"C5","y":95},{"p":186,"k":"C6","y":95},
{"p":187,"k":"B0","y":0},{"p":187,"k":"B1","y":7},{"p":187,"k":"B2","y":29},{"p":187,"k":"B3","y":60},{"p":187,"k":"B4","y":81},{"p":187,"k":"B5","y":100},{"p":187,"k":"B6","y":98},
{"p":188,"k":"C0","y":4},{"p":188,"k":"C1","y":4},{"p":188,"k":"C2","y":14},{"p":188,"k":"C3","y":52},{"p":188,"k":"C4","y":80},{"p":188,"k":"C5","y":88},{"p":188,"k":"C6","y":99},
{"p":189,"k":"B0","y":2},{"p":189,"k":"B1","y":12},{"p":189,"k":"B2","y":26},{"p":189,"k":"B3","y":55},{"p":189,"k":"B4","y":79},{"p":189,"k":"B5","y":97},{"p":189,"k":"B6","y":102},
{"p":190,"k":"D0","y":0},{"p":190,"k":"D1","y":1},{"p":190,"k":"D2","y":15},{"p":190,"k":"D3","y":42},{"p":190,"k":"D4","y":71},{"p":190,"k":"D5","y":87},{"p":190,"k":"D6","y":95},
{"p":191,"k":"C0","y":3},{"p":191,"k":"C1","y":6},{"p":191,"k":"C2","y":13},{"p":191,"k":"C3","y":46},{"p":191,"k":"C4","y":82},{"p":191,"k":"C5","y":96},{"p":191,"k":"C6","y":94},
{"p":192,"k":"A0","y":4},{"p":192,"k":"A1","y":8},{"p":192,"k":"A2","y":35},{"p":192,"k":"A3","y":63},{"p":192,"k":"A4","y":88},{"p":192,"k":"A5","y":102},{"p":192,"k":"A6","y":101},
{"p":193,"k":"E0","y":1},{"p":193,"k":"E1","y":4},{"p":193,"k":"E2","y":5},{"p":193,"k":"E3","y":31},{"p":193,"k":"E4","y":58},{"p":193,"k":"E5","y":89},{"p":193,"k":"E6","y":97},
{"p":194,"k":"B0","y":1},{"p":194,"k":"B1","y":11},{"p":194,"k":"B2","y":27},{"p":194,"k":"B3","y":52},{"p":194,"k":"B4","y":87},{"p":194,"k":"B5","y":94},{"p":194,"k":"B6","y":101},
{"p":195,"k":"E0","y":3},{"p":195,"k":"E1","y":0},{"p":195,"k":"E2","y":13},{"p":195,"k":"E3","y":28},{"p":195,"k":"E4","y":56},{"p":195,"k":"E5","y":80},{"p":195,"k":"E6","y":96},
{"p":196,"k":"E0","y":2},{"p":196,"k":"E1","y":5},{"p":196,"k":"E2","y":7},{"p":196,"k":"E3","y":24},{"p":196,"k":"E4","y":66},{"p":196,"k":"E5","y":88},{"p":196,"k":"E6","y":93},
{"p":197,"k":"E0","y":-1},{"p":197,"k":"E1","y":2},{"p":197,"k":"E2","y":12},{"p":197,"k":"E3","y":30},{"p":197,"k":"E4","y":57},{"p":197,"k":"E5","y":90},{"p":197,"k":"E6","y":95},
{"p":198,"k":"C0","y":4},{"p":198,"k":"C1","y":4},{"p":198,"k":"C2","y":14},{"p":198,"k":"C3","y":52},{"p":198,"k":"C4","y":80},{"p":198,"k":"C5","y":88},{"p":198,"k":"C6","y":99},
{"p":199,"k":"B0","y":2},{"p":199,"k":"B1","y":12},{"p":199,"k":"B2","y":26},{"p":199,"k":"B3","y":55},{"p":199,"k":"B4","y":79},{"p":199,"k":"B5","y":97},{"p":199,"k":"B6","y":102},
{"p":200,"k":"E0","y":1},{"p":200,"k":"E1","y":4},{"p":200,"k":"E2","y":5},{"p":200,"k":"E3","y":31},{"p":200,"k":"E4","y":58},{"p":200,"k":"E5","y":89},{"p":200,"k":"E6","y":97},
{"p":201,"k":"E0","y":0},{"p":201,"k":"E1","y":6},{"p":201,"k":"E2","y":10},{"p":201,"k":"E3","y":22},{"p":201,"k":"E4","y":63},{"p":201,"k":"E5","y":84},{"p":201,"k":"E6","y":98},
{"p":202,"k":"F0","y":2},{"p":202,"k":"F1","y":-1},{"p":202,"k":"F2","y":11},{"p":202,"k":"F3","y":21},{"p":202,"k":"F4","y":46},{"p":202,"k":"F5","y":74},{"p":202,"k":"F6","y":94},
{"p":203,"k":"A0","y":4},{"p":203,"k":"A1","y":14},{"p":203,"k":"A2","y":32},{"p":203,"k":"A3","y":64},{"p":203,"k":"A4","y":95},{"p":203,"k":"A5","y":99},{"p":203,"k":"A6","y":96},
{"p":204,"k":"F0","y":-2},{"p":204,"k":"F1","y":1},{"p":204,"k":"F2","y":10},{"p":204,"k":"F3","y":23},{"p":204,"k":"F4","y":47},{"p":204,"k":"F5","y":84},{"p":204,"k":"F6","y":93},
{"p":205,"k":"E0","y":4},{"p":205,"k":"E1","y":1},{"p":205,"k":"E2","y":4},{"p":205,"k":"E3","y":32},{"p":205,"k":"E4","y":62},{"p":205,"k":"E5","y":81},{"p":205,"k":"E6","y":97},
{"p":206,"k":"D0","y":1},{"p":206,"k":"D1","y":8},{"p":206,"k":"D2","y":13},{"p":206,"k":"D3","y":34},{"p":206,"k":"D4","y":65},{"p":206,"k":"D5","y":91},{"p":206,"k":"D6","y":100},
{"p":207,"k":"C0","y":0},{"p":207,"k":"C1","y":3},{"p":207,"k":"C2","y":21},{"p":207,"k":"C3","y":53},{"p":207,"k":"C4","y":79},{"p":207,"k":"C5","y":90},{"p":207,"k":"C6","y":96},
{"p":208,"k":"C0","y":3},{"p":208,"k":"C1","y":6},{"p":208,"k":"C2","y":13},{"p":208,"k":"C3","y":46},{"p":208,"k":"C4","y":82},{"p":208,"k":"C5","y":96},{"p":208,"k":"C6","y":94},
{"p":209,"k":"F0","y":1},{"p":209,"k":"F1","y":-2},{"p":209,"k":"F2","y":8},{"p":209,"k":"F3","y":16},{"p":209,"k":"F4","y":49},{"p":209,"k":"F5","y":85},{"p":209,"k":"F6","y":96},
{"p":210,"k":"E0","y":1},{"p":210,"k":"E1","y":4},{"p":210,"k":"E2","y":5},{"p":210,"k":"E3","y":31},{"p":210,"k":"E4","y":58},{"p":210,"k":"E5","y":89},{"p":210,"k":"E6","y":97},
{"p":211,"k":"C0","y":0},{"p":211,"k":"C1","y":9},{"p":211,"k":"C2","y":20},{"p":211,"k":"C3","y":42},{"p":211,"k":"C4","y":81},{"p":211,"k":"C5","y":91},{"p":211,"k":"C6","y":100},
{"p":212,"k":"E0","y":3},{"p":212,"k":"E1","y":0},{"p":212,"k":"E2","y":13},{"p":212,"k":"E3","y":28},{"p":212,"k":"E4","y":56},{"p":212,"k":"E5","y":80},{"p":212,"k":"E6","y":96},
{"p":213,"k":"B0","y":3},{"p":213,"k":"B1","y":10},{"p":213,"k":"B2","y":24},{"p":213,"k":"B3","y":54},{"p":213,"k":"B4","y":90},{"p":213,"k":"B5","y":98},{"p":213,"k":"B6","y":96},
{"p":214,"k":"C0","y":-1},{"p":214,"k":"C1","y":5},{"p":214,"k":"C2","y":22},{"p":214,"k":"C3","y":50},{"p":214,"k":"C4","y":75},{"p":214,"k":"C5","y":97},{"p":214,"k":"C6","y":97},
{"p":215,"k":"E0","y":4},{"p":215,"k":"E1","y":1},{"p":215,"k":"E2","y":4},{"p":215,"k":"E3","y":32},{"p":215,"k":"E4","y":62},{"p":215,"k":"E5","y":81},{"p":215,"k":"E6","y":97},
{"p":216,"k":"R0","y":8},{"p":216,"k":"R1","y":14},{"p":216,"k":"R2","y":15},{"p":216,"k":"R3","y":24},{"p":216,"k":"R4","y":49},{"p":216,"k":"R5","y":83},{"p":216,"k":"R6","y":98},
{"p":217,"k":"C0","y":0},{"p":217,"k":"C1","y":3},{"p":217,"k":"C2","y":21},{"p":217,"k":"C3","y":53},{"p":217,"k":"C4","y":79},{"p":217,"k":"C5","y":90},{"p":217,"k":"C6","y":96},
{"p":218,"k":"E0","y":3},{"p":218,"k":"E1","y":3},{"p":218,"k":"E2","y":3},{"p":218,"k":"E3","y":26},{"p":218,"k":"E4","y":64},{"p":218,"k":"E5","y":89},{"p":218,"k":"E6","y":92},
{"p":219,"k":"C0","y":2},{"p":219,"k":"C1","y":2},{"p":219,"k":"C2","y":20},{"p":219,"k":"C3","y":43},{"p":219,"k":"C4","y":77},{"p":219,"k":"C5","y":98},{"p":219,"k":"C6","y":100},
{"p":220,"k":"C0","y":2},{"p":220,"k":"C1","y":8},{"p":220,"k":"C2","y":17},{"p":220,"k":"C3","y":44},{"p":220,"k":"C4","y":84},{"p":220,"k":"C5","y":95},{"p":220,"k":"C6","y":95},
{"p":221,"k":"E0","y":-1},{"p":221,"k":"E1","y":2},{"p":221,"k":"E2","y":12},{"p":221,"k":"E3","y":30},{"p":221,"k":"E4","y":57},{"p":221,"k":"E5","y":90},{"p":221,"k":"E6","y":95},
{"p":222,"k":"F0","y":3},{"p":222,"k":"F1","y":0},{"p":222,"k":"F2","y":2},{"p":222,"k":"F3","y":25},{"p":222,"k":"F4","y":52},{"p":222,"k":"F5","y":75},{"p":222,"k":"F6","y":95},
{"p":223,"k":"E0","y":1},{"p":223,"k":"E1","y":7},{"p":223,"k":"E2","y":9},{"p":223,"k":"E3","y":25},{"p":223,"k":"E4","y":55},{"p":223,"k":"E5","y":87},{"p":223,"k":"E6","y":99},
{"p":224,"k":"E0","y":0},{"p":224,"k":"E1","y":0},{"p":224,"k":"E2","y":11},{"p":224,"k":"E3","y":33},{"p":224,"k":"E4","y":61},{"p":224,"k":"E5","y":83},{"p":224,"k":"E6","y":94},
{"p":225,"k":"A0","y":5},{"p":225,"k":"A1","y":12},{"p":225,"k":"A2","y":28},{"p":225,"k":"A3","y":66},{"p":225,"k":"A4","y":93},{"p":225,"k":"A5","y":100},{"p":225,"k":"A6","y":95},
{"p":226,"k":"C0","y":2},{"p":226,"k":"C1","y":2},{"p":226,"k":"C2","y":20},{"p":226,"k":"C3","y":43},{"p":226,"k":"C4","y":77},{"p":226,"k":"C5","y":98},{"p":226,"k":"C6","y":100},
{"p":227,"k":"D0","y":1},{"p":227,"k":"D1","y":5},{"p":227,"k":"D2","y":9},{"p":227,"k":"D3","y":40},{"p":227,"k":"D4","y":68},{"p":227,"k":"D5","y":93},{"p":227,"k":"D6","y":98},
{"p":228,"k":"E0","y":0},{"p":228,"k":"E1","y":6},{"p":228,"k":"E2","y":10},{"p":228,"k":"E3","y":22},{"p":228,"k":"E4","y":63},{"p":228,"k":"E5","y":84},{"p":228,"k":"E6","y":98},
{"p":229,"k":"B0","y":4},{"p":229,"k":"B1","y":5},{"p":229,"k":"B2","y":30},{"p":229,"k":"B3","y":58},{"p":229,"k":"B4","y":80},{"p":229,"k":"B5","y":90},{"p":229,"k":"B6","y":99},
{"p":230,"k":"C0","y":2},{"p":230,"k":"C1","y":8},{"p":230,"k":"C2","y":17},{"p":230,"k":"C3","y":44},{"p":230,"k":"C4","y":84},{"p":230,"k":"C5","y":95},{"p":230,"k":"C6","y":95},
{"p":231,"k":"B0","y":0},{"p":231,"k":"B1","y":7},{"p":231,"k":"B2","y":29},{"p":231,"k":"B3","y":60},{"p":231,"k":"B4","y":81},{"p":231,"k":"B5","y":100},{"p":231,"k":"B6","y":98},
{"p":232,"k":"C0","y":4},{"p":232,"k":"C1","y":4},{"p":232,"k":"C2","y":14},{"p":232,"k":"C3","y":52},{"p":232,"k":"C4","y":80},{"p":232,"k":"C5","y":88},{"p":232,"k":"C6","y":99},
{"p":233,"k":"A0","y":3},{"p":233,"k":"A1","y":16},{"p":233,"k":"A2","y":34},{"p":233,"k":"A3","y":65},{"p":233,"k":"A4","y":84},{"p":233,"k":"A5","y":98},{"p":233,"k":"A6","y":102},
{"p":234,"k":"E0","y":0},{"p":234,"k":"E1","y":0},{"p":234,"k":"E2","y":11},{"p":234,"k":"E3","y":33},{"p":234,"k":"E4","y":61},{"p":234,"k":"E5","y":83},{"p":234,"k":"E6","y":94},
{"p":235,"k":"E0","y":3},{"p":235,"k":"E1","y":3},{"p":235,"k":"E2","y":3},{"p":235,"k":"E3","y":26},{"p":235,"k":"E4","y":64},{"p":235,"k":"E5","y":89},{"p":235,"k":"E6","y":92},
{"p":236,"k":"C0","y":2},{"p":236,"k":"C1","y":2},{"p":236,"k":"C2","y":20},{"p":236,"k":"C3","y":43},{"p":236,"k":"C4","y":77},{"p":236,"k":"C5","y":98},{"p":236,"k":"C6","y":100},
{"p":237,"k":"D0","y":1},{"p":237,"k":"D1","y":5},{"p":237,"k":"D2","y":9},{"p":237,"k":"D3","y":40},{"p":237,"k":"D4","y":68},{"p":237,"k":"D5","y":93},{"p":237,"k":"D6","y":98},
{"p":238,"k":"F0","y":-1},{"p":238,"k":"F1","y":5},{"p":238,"k":"F2","y":8},{"p":238,"k":"F3","y":15},{"p":238,"k":"F4","y":53},{"p":238,"k":"F5","y":78},{"p":238,"k":"F6","y":96},
{"p":239,"k":"C0","y":3},{"p":239,"k":"C1","y":3},{"p":239,"k":"C2","y":23},{"p":239,"k":"C3","y":48},{"p":239,"k":"C4","y":74},{"p":239,"k":"C5","y":87},{"p":239,"k":"C6","y":98}
]
},
"data":{"name":"d"},
"transform":[{"lookup":"k","from":{"data":{"name":"t"},"key":"k","fields":["x","f"]}}],
"facet":{"field":"p","type":"ordinal","header":{"labels":false,"title":null,"labelFontSize":0,"labelColor":"transparent","labelExpr":"''","labelPadding":0,"titlePadding":0}},
"columns":20,
"spacing":{"row":0,"column":0},
"spec":{
"width":51,
"height":47.75,
"encoding":{
"x":{"field":"x","type":"quantitative","scale":{"domain":[-0.4,6.2],"nice":false,"zero":false},"axis":null}
},
"layer":[
{"mark":{"type":"line","interpolate":"monotone","color":"#1ba6dc","strokeWidth":1.6},
"encoding":{"y":{"field":"f","type":"quantitative","scale":{"domain":[-4,110],"nice":false,"zero":false},"axis":null}}},
{"mark":{"type":"square","size":5,"color":"#8ea5b8","opacity":0.9},
"encoding":{"y":{"field":"y","type":"quantitative","scale":{"domain":[-4,110],"nice":false,"zero":false},"axis":null}}}
]
},
"config":{"view":{"stroke":"#1b3144","strokeWidth":1},"facet":{"spacing":0},
"header":{"labels":false,"title":null,"labelFontSize":0,"labelColor":"transparent","labelExpr":"''","labelPadding":0,"titlePadding":0},
"headerFacet":{"labels":false,"title":null,"labelFontSize":0,"labelColor":"transparent","labelExpr":"''","labelPadding":0,"titlePadding":0}}
}
